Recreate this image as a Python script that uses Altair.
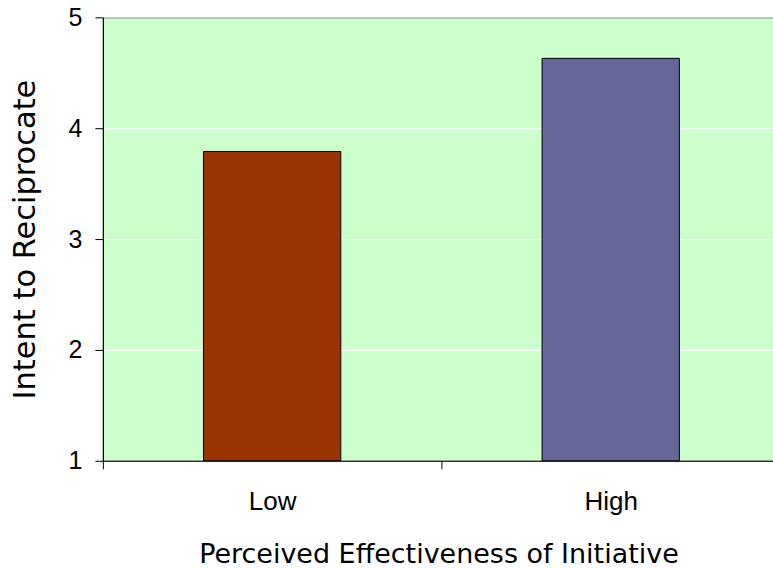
import altair as alt
import pandas as pd

# Mean intent to reciprocate by perceived effectiveness of the initiative
levels = ["Low", "High"]
means = [3.79, 4.63]
bar_colors = ["#993300", "#666699"]

df = pd.DataFrame({"level": levels, "mean": means, "base": [1, 1]})

bars = alt.Chart(df).mark_bar(stroke="black", strokeWidth=1, width=137.5).encode(
    x=alt.X(
        "level:N",
        sort=levels,
        scale=alt.Scale(range=[0, 678], paddingInner=0, paddingOuter=0),
        axis=alt.Axis(
            title="Perceived Effectiveness of Initiative",
            titleFont="DejaVu Sans",
            titleFontSize=27,
            titleFontWeight="normal",
            titleColor="black",
            titleX=336,
            titleY=102,
            titleAlign="center",
            titleBaseline="alphabetic",
            labelFont="Liberation Sans",
            labelFontSize=26,
            labelColor="black",
            labelAngle=0,
            labelBaseline="alphabetic",
            labelPadding=41,
            tickBand="extent",
            tickSize=8,
            tickColor="black",
            domainColor="black",
            grid=False,
        ),
    ),
    y=alt.Y(
        "mean:Q",
        scale=alt.Scale(domain=[1, 5], zero=False, nice=False),
        axis=alt.Axis(
            title="Intent to Reciprocate",
            values=[1, 2, 3, 4, 5],
            format="d",
            titleFont="DejaVu Sans",
            titleFontSize=30.5,
            titleFontWeight="normal",
            titleColor="black",
            titleAngle=270,
            titleX=-68,
            titleY=222,
            titleAlign="center",
            titleBaseline="alphabetic",
            labelFont="Liberation Sans",
            labelFontSize=25,
            labelColor="black",
            labelPadding=13,
            tickSize=8,
            tickColor="black",
            domainColor="black",
            grid=True,
            gridColor="white",
            gridWidth=1,
        ),
    ),
    y2=alt.Y2("base:Q"),
    color=alt.Color(
        "level:N",
        scale=alt.Scale(domain=levels, range=bar_colors),
        legend=None,
    ),
)

chart = (
    bars.properties(
        width=671,
        height=444,
        autosize=alt.AutoSizeParams(type="none"),
        padding={"left": 103, "top": 17, "right": 0, "bottom": 108},
        background="white",
    )
    .configure_view(fill="#CCFFCC", stroke="black", strokeWidth=1)
)

chart.save("out.html", embed_options={"renderer": "svg", "actions": False})
